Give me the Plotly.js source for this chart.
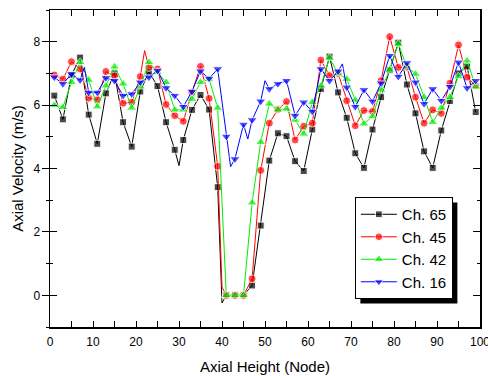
<!DOCTYPE html>
<html><head><meta charset="utf-8">
<script src="https://cdn.plot.ly/plotly-3.0.1.min.js"></script>
<style>html,body{margin:0;padding:0;background:#fff}#chart{width:488px;height:376px}</style>
</head><body><div id="chart"></div>
<script>
// Data (axial node, axial velocity m/s)
var ch65X = [1,3,5,7,9,11,13,15,17,19,21,23,25,27,29,30,31,33,35,37,39,40,41,43,45,47,49,51,53,55,57,59,61,63,65,67,69,71,73,75,77,79,81,83,85,87,89,91,93,95,97,99];
var ch65Y = [6.3,5.55,6.95,7.5,5.7,4.78,6.37,7.0,5.46,4.69,6.43,7.05,6.6,5.46,4.59,4.09,4.9,5.85,6.32,5.86,3.41,-0.24,0,0,0,0.31,2.2,4.25,5.11,5.02,4.23,3.92,5.23,6.51,7.53,6.4,5.6,4.48,4.02,5.23,6.25,7.1,7.97,6.65,5.74,4.54,4.02,5.2,6.13,7.0,7.22,5.78];

var ch45X = [1,3,5,7,9,11,13,15,17,19,21,22,23,25,27,29,31,33,35,37,39,40,41,43,45,47,49,51,53,55,57,59,61,63,65,67,69,71,73,75,77,79,81,83,85,87,89,91,93,95,97,99];
var ch45Y = [6.95,6.82,7.37,7.14,6.22,6.17,7.06,6.92,6.06,6.09,6.9,7.72,7.19,7.14,6.02,5.67,5.49,6.4,7.22,6.21,4.07,0.26,0,0,0,0.52,3.94,5.43,5.86,6.11,4.9,5.33,5.43,7.42,6.93,7.0,6.14,5.35,5.83,5.8,6.77,8.16,7.19,7.2,6.25,5.43,5.85,5.74,6.69,7.9,6.88,6.61];

var ch42X = [1,3,5,7,9,11,13,15,17,19,21,23,25,27,29,31,33,35,37,39,41,43,45,47,49,51,53,55,57,59,61,63,65,67,69,71,73,75,77,79,81,83,85,87,89,91,93,95,97,99];
var ch42Y = [6.0,5.93,6.72,7.35,6.79,5.95,6.61,7.21,6.67,5.91,6.58,7.35,7.03,6.72,5.85,5.85,6.19,6.72,6.82,5.91,0,0,0,2.92,4.83,6.04,5.85,5.88,5.53,5.09,6.09,6.61,7.49,7.0,6.82,6.16,5.41,5.64,6.48,7.11,7.93,7.21,6.98,6.25,5.46,5.91,6.25,6.9,7.4,6.58];

var ch16X = [1,3,5,7,8,9,11,13,15,17,19,21,23,25,27,29,31,33,35,37,39,41,42,43,45,46,47,49,50,51,53,55,57,59,61,63,65,67,68,69,71,73,75,77,79,81,83,85,87,89,91,93,95,97,99];
var ch16Y = [6.88,6.67,6.98,6.79,7.19,6.4,6.4,6.86,6.77,6.3,6.35,6.72,6.88,7.09,6.54,6.3,5.95,6.43,7.07,6.84,7.14,5.01,4.06,4.3,5.39,4.93,5.53,6.12,6.77,6.51,6.67,6.77,5.67,6.09,5.8,7.14,6.77,7.07,7.3,6.56,5.95,6.48,6.12,6.69,7.56,6.9,7.33,6.72,6.04,6.51,6.14,6.58,7.35,6.54,6.77];

var names = ['Ch. 65','Ch. 45','Ch. 42','Ch. 16'];
var xTitle = 'Axial Height (Node)';
var yTitle = 'Axial Velocity (m/s)';

// markers only on odd nodes; extra points only shape the line
function sizes(xs, s){ return xs.map(function(v){ return (v % 2 === 1) ? s : 0; }); }

var traces = [
  {x: ch65X, y: ch65Y, name: names[0], mode: 'lines+markers', line: {color: '#000000', width: 1},
   marker: {symbol: 'square', color: '#000000', size: sizes(ch65X, 7)}},
  {x: ch45X, y: ch45Y, name: names[1], mode: 'lines+markers', line: {color: '#ff0000', width: 1},
   marker: {symbol: 'circle', color: '#ff0000', size: sizes(ch45X, 8)}},
  {x: ch42X, y: ch42Y, name: names[2], mode: 'lines+markers', line: {color: '#00ee00', width: 1},
   marker: {symbol: 'triangle-up', color: '#00ee00', size: sizes(ch42X, 9)}},
  {x: ch16X, y: ch16Y, name: names[3], mode: 'lines+markers', line: {color: '#0000ff', width: 1},
   marker: {symbol: 'triangle-down', color: '#0000ff', size: sizes(ch16X, 9)}}
];
// empty trace hosting the outside half of the left axis ticks
traces.push({x: [], y: [], yaxis: 'y2', showlegend: false, hoverinfo: 'skip'});

var fontFam = 'Arial, "Liberation Sans", sans-serif';
var layout = {
  width: 488, height: 376,
  margin: {l: 50, r: 8, t: 10, b: 49},
  paper_bgcolor: '#ffffff', plot_bgcolor: '#ffffff',
  font: {family: fontFam, color: '#000000', size: 12},
  showlegend: true,
  xaxis: {
    range: [0, 100], dtick: 10, tick0: 0, ticks: 'inside', ticklen: 6, tickwidth: 1, tickcolor: '#000',
    minor: {dtick: 5, ticks: 'inside', ticklen: 3, tickcolor: '#000'},
    showline: true, linecolor: '#000', linewidth: 1.5, mirror: 'allticks', showgrid: false, zeroline: false,
    ticklabeloverflow: 'allow', ticklabelstandoff: 3,
    tickfont: {size: 12}, title: {text: xTitle, font: {size: 15}, standoff: 13}
  },
  yaxis: {
    range: [-1, 9], dtick: 2, tick0: 0, ticks: 'inside', ticklen: 7, tickwidth: 1, tickcolor: '#000',
    minor: {dtick: 1, ticks: 'inside', ticklen: 3, tickcolor: '#000'},
    showline: true, linecolor: '#000', linewidth: 1.5, mirror: 'allticks', showgrid: false, zeroline: false,
    ticklabelstandoff: 6,
    tickfont: {size: 12}, title: {text: yTitle, font: {size: 15}, standoff: 6}
  },
  yaxis2: {
    overlaying: 'y', side: 'left', range: [-1, 9], dtick: 2, tick0: 0, ticks: 'outside', ticklen: 7,
    tickwidth: 1, tickcolor: '#000', showticklabels: false, showgrid: false, zeroline: false, showline: false,
    minor: {dtick: 1, ticks: 'outside', ticklen: 3, tickcolor: '#000'}
  },
  legend: {
    x: 0.709, y: 0.41, xanchor: 'left', yanchor: 'top',
    bgcolor: '#ffffff', bordercolor: '#000000', borderwidth: 1,
    font: {size: 15, family: fontFam}, tracegroupgap: 0, itemwidth: 36
  },
  shapes: [{type: 'rect', xref: 'paper', yref: 'paper', x0: 0.72, x1: 0.948, y0: 0.135, y1: 0.395,
            fillcolor: '#000000', line: {width: 0}, layer: 'above'}]
};

Plotly.newPlot('chart', traces, layout, {staticPlot: true, displayModeBar: false}).then(function(gd){
  // place the drop shadow 5px right/down of the drawn legend box
  var bg = gd.querySelector('.legend .bg');
  if (!bg) return;
  var r = bg.getBoundingClientRect();
  var fs = gd._fullLayout._size;
  var off = 5;
  var x0 = (r.left + off - fs.l) / fs.w, x1 = (r.right + off - fs.l) / fs.w;
  var y1 = 1 - (r.top + off - fs.t) / fs.h, y0 = 1 - (r.bottom + off - fs.t) / fs.h;
  return Plotly.relayout(gd, {'shapes[0].x0': x0, 'shapes[0].x1': x1, 'shapes[0].y0': y0, 'shapes[0].y1': y1});
});
</script>
</body></html>
